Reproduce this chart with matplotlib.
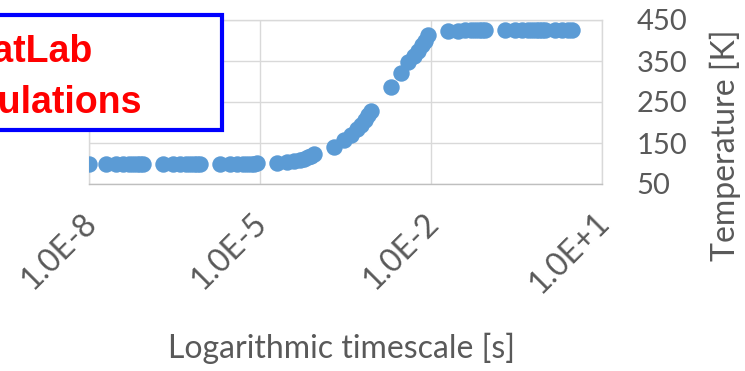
import matplotlib
matplotlib.use("Agg")
import matplotlib.pyplot as plt
from matplotlib.patches import Rectangle
from matplotlib.transforms import ScaledTranslation

# simulated temperature vs time
times = [
    1e-8,
    2e-8, 3e-8, 4e-8, 5e-8, 6e-8, 7e-8, 8e-8, 9e-8,
    2e-7, 3e-7, 4e-7, 5e-7, 6e-7, 7e-7, 8e-7, 9e-7,
    2e-6, 3e-6, 4e-6, 5e-6, 6e-6, 7e-6, 8e-6, 9e-6,
    2e-5, 3e-5, 4e-5, 5e-5, 6e-5, 7e-5, 8e-5, 9e-5,
    2e-4, 3e-4, 4e-4, 5e-4, 6e-4, 7e-4, 8e-4, 9e-4,
    2e-3, 3e-3, 4e-3, 5e-3, 6e-3, 7e-3, 8e-3, 9e-3,
    2e-2, 3e-2, 4e-2, 5e-2, 6e-2, 7e-2, 8e-2, 9e-2,
    0.2, 0.3, 0.4, 0.5, 0.6, 0.7, 0.8, 0.9, 1.0, 1.5, 2.0, 2.5, 3.0,
]
temps = [
    99,
    99, 99, 99, 99, 99, 99, 99, 99,
    99, 99, 99, 99, 99, 99, 99, 99,
    99, 99, 99, 99, 99, 100, 100, 101,
    102, 104, 106, 109, 112, 115, 119, 124,
    140, 157, 170, 183, 195, 206, 218, 228,
    287, 321, 348, 362, 375, 388, 400, 413,
    422, 424, 425, 425, 425, 425, 425, 425,
    425, 425, 425, 425, 425, 425, 425, 425, 425, 425, 425, 425, 425,
]
xticks = [1e-8, 1e-5, 1e-2, 1e1]
xtick_labels = ["1.0E-8", "1.0E-5", "1.0E-2", "1.0E+1"]
yticks = [50, 150, 250, 350, 450]

W, H = 745, 371
TXT = "#595959"
GRID = "#D9D9D9"

plt.rcParams["font.family"] = ["Lato", "DejaVu Sans"]

fig = plt.figure(figsize=(W / 100, H / 100), dpi=100)
ax = fig.add_axes([89 / W, 1 - 184 / H, (602 - 89) / W, (184 - 20) / H])

ax.scatter(times, temps, s=140, color="#5B9BD5", linewidths=0, zorder=3)

ax.set_xscale("log")
ax.set_xlim(1e-8, 1e1)
ax.set_ylim(50, 450)
ax.set_xticks(xticks)
ax.set_xticklabels(xtick_labels)
ax.minorticks_off()
ax.set_yticks(yticks)
ax.yaxis.tick_right()

ax.grid(True, color=GRID, linewidth=1.0)
ax.set_axisbelow(True)
for s in ax.spines.values():
    s.set_color(GRID)
    s.set_linewidth(1.0)
ax.spines["bottom"].set_color("#BFBFBF")

ax.tick_params(axis="both", length=0, colors=TXT, labelsize=21)
ax.tick_params(axis="x", pad=17, labelsize=23)
ax.tick_params(axis="y", pad=25)
shift = ScaledTranslation(-8 / 100, 0, fig.dpi_scale_trans)
for lab in ax.get_xticklabels():
    lab.set_rotation(45)
    lab.set_ha("right")
    lab.set_va("top")
    lab.set_rotation_mode("anchor")
    lab.set_transform(lab.get_transform() + shift)

fig.text(342 / W, 1 - 358 / H, "Logarithmic timescale [s]", ha="center",
         va="baseline", fontsize=23, color=TXT)
fig.text(725 / W, 1 - 145 / H, "Temperature [K]", ha="center", va="center",
         rotation=90, fontsize=23, color=TXT)

# annotation box, cut off at the left edge like in the original
box = Rectangle((-12 / W, 1 - 130 / H), 234 / W, 115 / H, transform=fig.transFigure,
                facecolor="white", edgecolor="#0000FF", linewidth=3, zorder=5)
fig.patches.append(box)
fig.text(93 / W, 1 - 62 / H, "MatLab", ha="right", va="baseline", fontsize=27,
         fontweight="bold", color="#FF0000", family="Liberation Sans", zorder=6)
fig.text(142 / W, 1 - 113 / H, "simulations", ha="right", va="baseline", fontsize=27,
         fontweight="bold", color="#FF0000", family="Liberation Sans", zorder=6)

fig.savefig("out.png", dpi=100)
